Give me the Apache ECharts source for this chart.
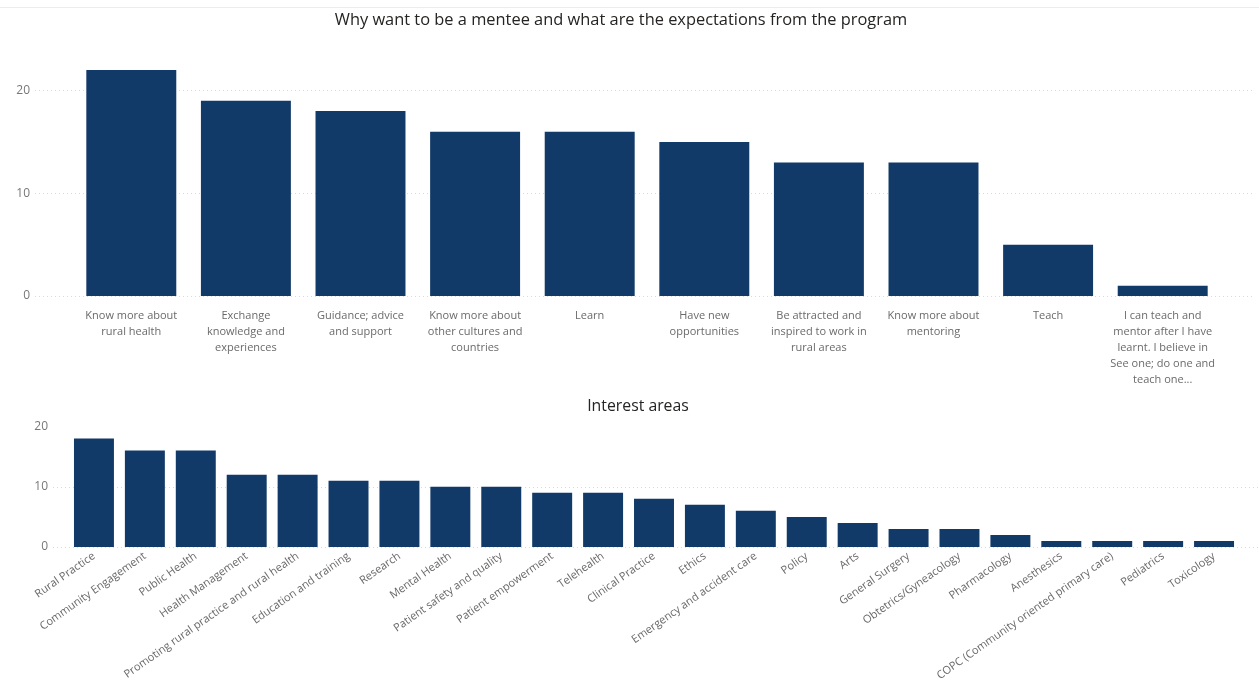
<!DOCTYPE html>
<html>
<head>
<meta charset="utf-8">
<script src="https://cdn.jsdelivr.net/npm/echarts@6/dist/echarts.min.js"></script>
<style>
html,body{margin:0;padding:0;background:#fff;}
#c{width:1259px;height:695px;}
</style>
</head>
<body>
<div id="c"></div>
<script>
const topTitle = 'Why want to be a mentee and what are the expectations from the program';
const topCategories = [
  'Know more about rural health',
  'Exchange knowledge and experiences',
  'Guidance; advice and support',
  'Know more about other cultures and countries',
  'Learn',
  'Have new opportunities',
  'Be attracted and inspired to work in rural areas',
  'Know more about mentoring',
  'Teach',
  'I can teach and mentor after I have learnt. I believe in See one; do one and teach one...'
];
const topTickLabels = [
  'Know more about\nrural health',
  'Exchange\nknowledge and\nexperiences',
  'Guidance; advice\nand support',
  'Know more about\nother cultures and\ncountries',
  'Learn',
  'Have new\nopportunities',
  'Be attracted and\ninspired to work in\nrural areas',
  'Know more about\nmentoring',
  'Teach',
  'I can teach and\nmentor after I have\nlearnt. I believe in\nSee one; do one and\nteach one...'
];
const topValues = [22, 19, 18, 16, 16, 15, 13, 13, 5, 1];

const bottomTitle = 'Interest areas';
const bottomCategories = [
  'Rural Practice', 'Community Engagement', 'Public Health', 'Health Management',
  'Promoting rural practice and rural health', 'Education and training', 'Research',
  'Mental Health', 'Patient safety and quality', 'Patient empowerment', 'Telehealth',
  'Clinical Practice', 'Ethics', 'Emergency and accident care', 'Policy', 'Arts',
  'General Surgery', 'Obtetrics/Gyneacology', 'Pharmacology', 'Anesthesics',
  'COPC (Community oriented primary care)', 'Pediatrics', 'Toxicology'
];
const bottomValues = [18, 16, 16, 12, 12, 11, 11, 10, 10, 9, 9, 8, 7, 6, 5, 4, 3, 3, 2, 1, 1, 1, 1];

const topYMax = 22, bottomYMax = 20, yInterval = 10;

const BAR = '#123a68';
const FONT = '"Open Sans", "Noto Sans", sans-serif';
const gridLine = {show: true, showMaxLine: false, lineStyle: {color: '#d9d9d9', type: [1, 3], width: 1}};
const yLabel = {color: '#777', fontFamily: FONT, fontSize: 12, margin: 5,
  formatter: v => (v % yInterval === 0 ? String(v) : '')};

const chart = echarts.init(document.getElementById('c'), null, {renderer: 'canvas'});
chart.setOption({
  animation: false,
  backgroundColor: '#fff',
  title: [
    {text: topTitle, left: 616, top: 7, textAlign: 'center',
     textStyle: {fontFamily: FONT, fontSize: 16.4, fontWeight: 'normal', color: '#252423'}},
    {text: bottomTitle, left: 633, top: 393, textAlign: 'center',
     textStyle: {fontFamily: FONT, fontSize: 15.8, fontWeight: 'normal', color: '#252423'}}
  ],
  graphic: [{type: 'rect', shape: {x: 0, y: 7, width: 1259, height: 1}, style: {fill: '#ececec'}, silent: true}],
  grid: [
    {left: 74, right: 39, top: 70, bottom: 399},
    {left: 35, right: 4, top: 70, bottom: 399},
    {left: 68.5, right: 19.5, top: 426.5, bottom: 148},
    {left: 53, right: 1, top: 426.5, bottom: 148}
  ],
  xAxis: [
    {type: 'category', gridIndex: 0, data: topCategories,
     axisLine: {show: false}, axisTick: {show: false},
     axisLabel: {interval: 0, color: '#6a6a6a', fontFamily: FONT, fontSize: 11, lineHeight: 16, margin: 12,
       formatter: (v, i) => topTickLabels[i]}},
    {type: 'value', gridIndex: 1, min: 0, max: 1, show: false},
    {type: 'category', gridIndex: 2, data: bottomCategories,
     axisLine: {show: false}, axisTick: {show: false},
     axisLabel: {interval: 0, rotate: 35, color: '#6a6a6a', fontFamily: FONT, fontSize: 11, margin: 8}},
    {type: 'value', gridIndex: 3, min: 0, max: 1, show: false}
  ],
  yAxis: [
    {type: 'value', gridIndex: 0, min: 0, max: topYMax, interval: yInterval,
     axisLabel: {show: false}, splitLine: {show: false}, axisLine: {show: false}, axisTick: {show: false}},
    {type: 'value', gridIndex: 1, min: 0, max: topYMax, interval: yInterval,
     axisLabel: yLabel, splitLine: gridLine, axisLine: {show: false}, axisTick: {show: false}},
    {type: 'value', gridIndex: 2, min: 0, max: bottomYMax, interval: yInterval,
     axisLabel: {show: false}, splitLine: {show: false}, axisLine: {show: false}, axisTick: {show: false}},
    {type: 'value', gridIndex: 3, min: 0, max: bottomYMax, interval: yInterval,
     axisLabel: yLabel, splitLine: gridLine, axisLine: {show: false}, axisTick: {show: false}}
  ],
  series: [
    {type: 'bar', xAxisIndex: 0, yAxisIndex: 0, data: topValues, barWidth: '78.5%',
     itemStyle: {color: BAR}, z: 3},
    {type: 'bar', xAxisIndex: 2, yAxisIndex: 2, data: bottomValues, barWidth: '78.5%',
     itemStyle: {color: BAR}, z: 3}
  ]
});
</script>
</body>
</html>
